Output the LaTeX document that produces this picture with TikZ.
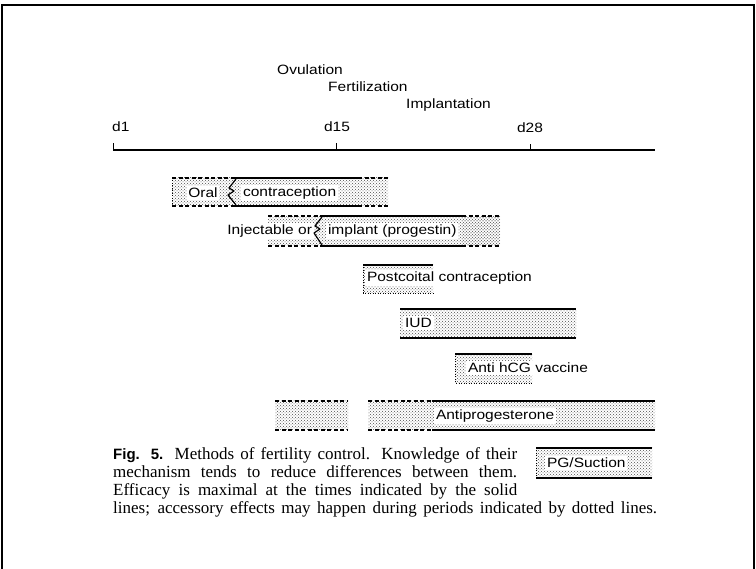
\documentclass[tikz,border=0pt]{standalone}
\usepackage{fontspec}
\setmainfont{Liberation Serif}
\newfontfamily\lblfont[FakeStretch=1.15]{Liberation Sans}
\newfontfamily\figfont{Liberation Sans}
\newfontfamily\capfont{Liberation Serif}
\usetikzlibrary{patterns}
\begin{document}
\begin{tikzpicture}[x=1pt,y=-1pt,
  lbl/.style={font=\lblfont\fontsize{13.5}{16}\selectfont, inner sep=0pt},
  bg/.style={fill=white, inner sep=1.8pt},
  capt/.style={font=\capfont\fontsize{17}{18}\selectfont, inner sep=0pt, anchor=base west},
  stip/.style={pattern=crosshatch dots, pattern color=black!70},
  dense/.style={pattern=dots, pattern color=black!70},
  solidedge/.style={line width=1.7pt},
  dashedge/.style={line width=1.7pt, dash pattern=on 4pt off 2.5pt},
  dotedge/.style={line width=0.9pt, dash pattern=on 0.9pt off 1.6pt},
  wave/.style={line width=1.2pt, line join=round}
]
\useasboundingbox (0,0) rectangle (756,569);
% frame
\draw[line width=2.5pt] (2.2,572) -- (2.2,5.2) -- (753.8,5.2) -- (753.8,572);

% axis
\coordinate (a0) at (113,150);
\coordinate (a1) at (655,150);
\coordinate (t15) at (336,150);
\coordinate (t28) at (530,150);
\draw[line width=1.2pt] (a0) -- (a1);
\draw[line width=1pt] (a0) -- ++(0,-7);
\draw[line width=1pt] (t15) -- ++(0,-7);
\draw[line width=1pt] (t28) -- ++(0,-6);

\node[lbl, anchor=base west] (d1) at (112,132) {d1};
\node[lbl, anchor=base] (d15) at (337,132) {d15};
\node[lbl, anchor=base] (d28) at (530,133) {d28};
\node[lbl, anchor=base west] (ov) at (277,75) {Ovulation};
\node[lbl, anchor=base west] (fe) at (328,92) {Fertilization};
\node[lbl, anchor=base west] (im) at (406,109) {Implantation};

% bar 1: oral contraception
\fill[stip] (172,178) rectangle (388,206);
\draw[dotedge] (172,178) -- (172,206);
\draw[dashedge] (172,178) -- (234,178) (172,206) -- (234,206);
\draw[solidedge] (234,178) -- (358,178) (234,206) -- (358,206);
\draw[dashedge] (358,178) -- (388,178) (358,206) -- (388,206);
\node[lbl, bg] (oral) at (203,193) {Oral};
\node[lbl, bg, anchor=west] (oc) at (241,193) {contraception};
\draw[wave] (236,179) -- (229,188) -- (234,191) -- (228,195) -- (236,205);

% bar 2: injectable or implant
\fill[stip] (268,216) rectangle (500,246);
\fill[dense] (462,216) rectangle (500,246);
\draw[dashedge] (268,216) -- (320,216) (268,246) -- (320,246);
\draw[solidedge] (320,216) -- (462,216) (320,246) -- (462,246);
\draw[dashedge] (462,216) -- (500,216) (462,246) -- (500,246);
\node[lbl, bg, anchor=east] (inj) at (314,231) {Injectable or};
\node[lbl, bg, anchor=west] (imp) at (326,231) {implant (progestin)};
\draw[wave] (322,217) -- (315,226) -- (320,229) -- (314,233) -- (322,245);

% bar 3: postcoital
\fill[stip] (363,265) rectangle (433,293);
\draw[solidedge] (363,265) -- (433,265);
\draw[dotedge] (363,265) -- (363,293) -- (433,293);
\node[lbl, bg, anchor=west] (pc) at (365,278) {Postcoital contraception};

% bar 4: IUD
\fill[stip] (400,309) rectangle (576,338);
\draw[solidedge] (400,309) -- (576,309) (400,338) -- (576,338);
\node[lbl, bg, anchor=west] (iud) at (403,323) {IUD};

% bar 5: anti hCG vaccine
\fill[stip] (455,354) rectangle (532,383);
\draw[solidedge] (455,354) -- (532,354);
\draw[dotedge] (455,354) -- (455,383) -- (532,383);
\node[lbl, bg, anchor=west] (hcg) at (466,368) {Anti hCG vaccine};

% bar 6: antiprogesterone
\fill[stip] (275,401) rectangle (348,430);
\draw[dashedge] (275,401) -- (348,401) (275,430) -- (348,430);
\fill[stip] (368,401) rectangle (432,430);
\draw[dashedge] (368,401) -- (432,401) (368,430) -- (432,430);
\fill[stip] (432,401) rectangle (655,430);
\draw[solidedge] (432,401) -- (655,401) (432,430) -- (655,430);
\node[lbl, bg, anchor=west] (ap) at (434,416) {Antiprogesterone};

% bar 7: PG/Suction
\fill[stip] (536,448) rectangle (652,478);
\draw[solidedge] (536,448) -- (652,448) (536,478) -- (652,478);
\draw[dotedge] (536,448) -- (536,478);
\node[lbl, bg, anchor=west] (pg) at (545,463) {PG/Suction};

% caption
\node[capt] (c1) at (113,460) {\makebox[404pt][s]{{\figfont\bfseries\fontsize{15}{18}\selectfont Fig. 5.} Methods of fertility control. Knowledge of their}};
\node[capt] (c2) at (113,478) {\makebox[404pt][s]{mechanism tends to reduce differences between them.}};
\node[capt] (c3) at (113,496) {\makebox[404pt][s]{Efficacy is maximal at the times indicated by the solid}};
\node[capt] (c4) at (113,514) {\makebox[544pt][s]{lines; accessory effects may happen during periods indicated by dotted lines.}};
\end{tikzpicture}
\end{document}
